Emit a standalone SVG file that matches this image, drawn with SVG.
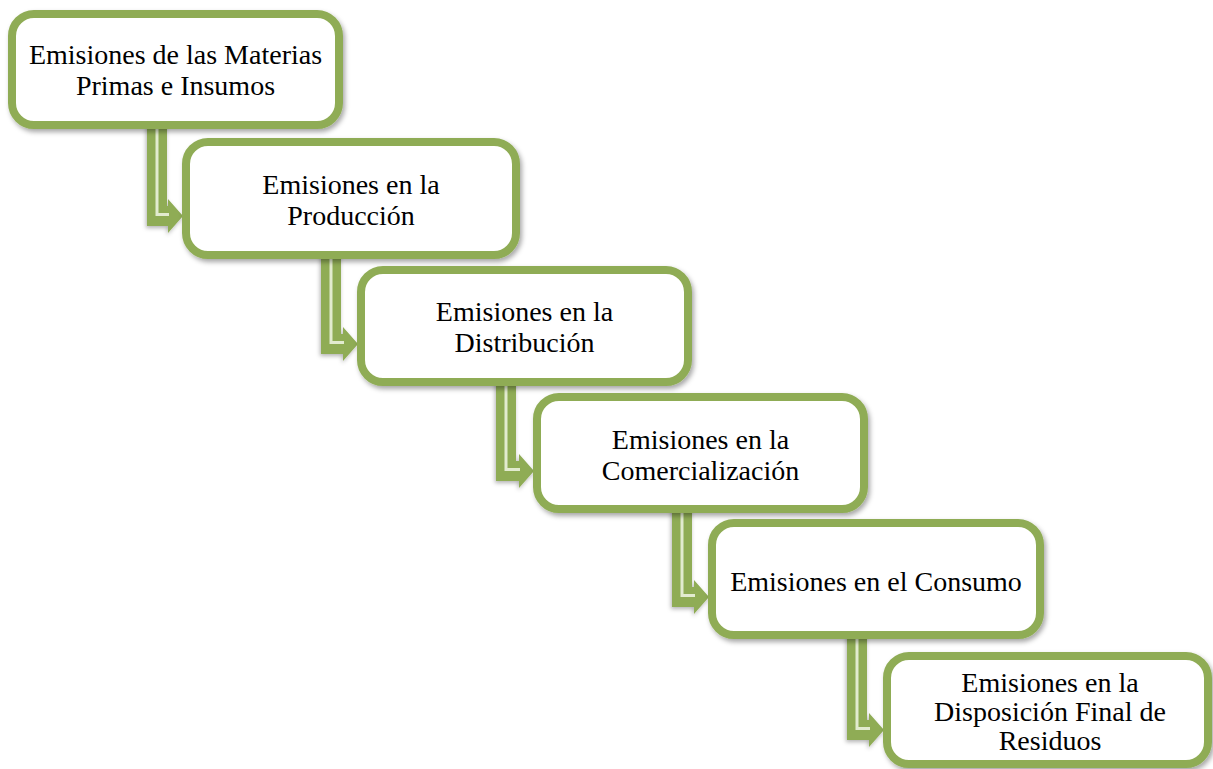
<svg xmlns="http://www.w3.org/2000/svg" width="1213" height="769" viewBox="0 0 1213 769">
  <defs>
    <filter id="shadow" x="-10%" y="-10%" width="125%" height="130%">
      <feDropShadow dx="2" dy="3" stdDeviation="2.5" flood-color="#000" flood-opacity="0.35"/>
    </filter>
    <filter id="arrowShadow" x="-30%" y="-10%" width="160%" height="130%">
      <feDropShadow dx="-1" dy="2" stdDeviation="2" flood-color="#000" flood-opacity="0.3"/>
    </filter>
  </defs>
  <style>
    .box { fill: #ffffff; stroke: #8fac55; stroke-width: 8; filter: url(#shadow); }
    .arrow { fill: #8fac55; filter: url(#arrowShadow); }
    .shine { fill: none; stroke: #e2ebcf; stroke-width: 3; }
    .label { font-family: "Liberation Serif", "Times New Roman", serif; font-size: 28px; fill: #000; text-anchor: middle; }
  </style>
  <rect width="1213" height="769" fill="#ffffff"/>

  <!-- bent arrows, drawn beneath the boxes -->
  <g id="connectors">
    <g id="arrow-1">
      <path class="arrow" d="M147,119 H167 V206 H168 V199 L183,216 L168,233 V226 H147 Z"/>
      <polyline class="shine" points="157,119 157,214.5 169,214.5"/>
    </g>
    <g id="arrow-2">
      <path class="arrow" d="M321,249 H341 V334 H343 V327 L358,344 L343,361 V354 H321 Z"/>
      <polyline class="shine" points="331,249 331,342.5 344,342.5"/>
    </g>
    <g id="arrow-3">
      <path class="arrow" d="M496,376 H516 V461 H519 V454 L534,471 L519,488 V481 H496 Z"/>
      <polyline class="shine" points="506,376 506,469.5 520,469.5"/>
    </g>
    <g id="arrow-4">
      <path class="arrow" d="M672,503 H692 V587 H694 V580 L709,597 L694,614 V607 H672 Z"/>
      <polyline class="shine" points="682,503 682,595.5 695,595.5"/>
    </g>
    <g id="arrow-5">
      <path class="arrow" d="M847,629 H867 V720 H869 V713 L884,730 L869,747 V740 H847 Z"/>
      <polyline class="shine" points="857,629 857,728.5 870,728.5"/>
    </g>
  </g>

  <g id="node-materias">
    <rect class="box" x="12" y="14" width="327" height="111" rx="22"/>
    <text class="label" x="175.5" y="64">Emisiones de las Materias</text>
    <text class="label" x="175.5" y="95">Primas e Insumos</text>
  </g>

  <g id="node-produccion">
    <rect class="box" x="186" y="142" width="330" height="113" rx="22"/>
    <text class="label" x="351" y="194">Emisiones en la</text>
    <text class="label" x="351" y="225">Producción</text>
  </g>

  <g id="node-distribucion">
    <rect class="box" x="361" y="270" width="327" height="112" rx="22"/>
    <text class="label" x="524.5" y="321">Emisiones en la</text>
    <text class="label" x="524.5" y="352">Distribución</text>
  </g>

  <g id="node-comercializacion">
    <rect class="box" x="537" y="397" width="327" height="112" rx="22"/>
    <text class="label" x="700.5" y="449">Emisiones en la</text>
    <text class="label" x="700.5" y="480">Comercialización</text>
  </g>

  <g id="node-consumo">
    <rect class="box" x="712" y="523" width="328" height="112" rx="22"/>
    <text class="label" x="876" y="591">Emisiones en el Consumo</text>
  </g>

  <g id="node-disposicion">
    <rect class="box" x="887" y="656" width="321" height="108" rx="22"/>
    <text class="label" x="1050" y="692">Emisiones en la</text>
    <text class="label" x="1050" y="721">Disposición Final de</text>
    <text class="label" x="1050" y="750">Residuos</text>
  </g>
</svg>
